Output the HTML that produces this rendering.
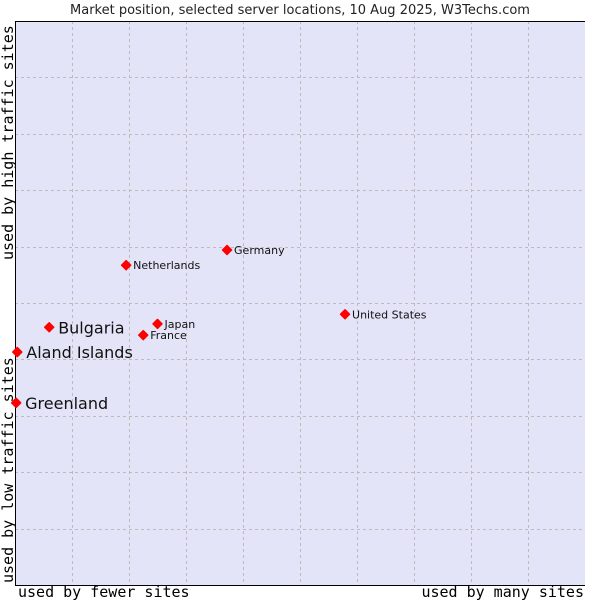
<!DOCTYPE html>
<html><head><meta charset="utf-8"><style>
body{margin:0;background:#fff;}
svg{display:block;font-family:"DejaVu Sans","Liberation Sans",sans-serif;}
</style></head><body>
<svg id="chart" width="600" height="600">
<text x="300" y="14" text-anchor="middle" font-size="13" fill="#222">Market position, selected server locations, 10 Aug 2025, W3Techs.com</text>
<rect x="15" y="21" width="570" height="564" fill="#e3e4f8"/>
<g id="grid"></g>
<line x1="15.5" y1="21" x2="15.5" y2="585" stroke="#000"/>
<line x1="15" y1="21.5" x2="585" y2="21.5" stroke="#000"/>
<line x1="15" y1="585.5" x2="585" y2="585.5" stroke="#000"/>
<g id="points"></g>
<text x="18" y="597" font-family="DejaVu Sans Mono,Liberation Mono,monospace" font-size="15">used by fewer sites</text>
<text x="584" y="597" text-anchor="end" font-family="DejaVu Sans Mono,Liberation Mono,monospace" font-size="15">used by many sites</text>
<text transform="translate(13,260) rotate(-90)" font-family="DejaVu Sans Mono,Liberation Mono,monospace" font-size="15">used by high traffic sites</text>
<text transform="translate(13,583) rotate(-90)" font-family="DejaVu Sans Mono,Liberation Mono,monospace" font-size="15">used by low traffic sites</text>
</svg>
<script>
const names=["Greenland","Aland Islands","Bulgaria","Netherlands","Japan","France","Germany","United States"];
const xs=[0.2,0.4,6.0,19.5,25.0,22.5,37.2,57.9];
const ys=[32.3,41.3,45.7,56.7,46.3,44.3,59.4,48.0];
const big=[true,true,true,false,false,false,false,false];
const X0=15,X1=585,Y0=585,Y1=21;
const sx=v=>X0+(X1-X0)*v/100, sy=v=>Y0-(Y0-Y1)*v/100;
const NS="http://www.w3.org/2000/svg";
const g=document.getElementById('grid');
for(let i=1;i<10;i++){
 const v=document.createElementNS(NS,'line');
 
 
 const x=Math.round(sx(i*10))+0.5;
 v.setAttribute('x1',x);v.setAttribute('x2',x);v.setAttribute('y1',Y1);v.setAttribute('y2',Y0);
 v.setAttribute('stroke','#bbbbbb');v.setAttribute('stroke-dasharray','3,3');g.appendChild(v);
 const h=document.createElementNS(NS,'line');
 
 
 const y=Math.round(sy(i*10))+0.5;
 h.setAttribute('x1',X0);h.setAttribute('x2',X1);h.setAttribute('y1',y);h.setAttribute('y2',y);
 h.setAttribute('stroke','#bbbbbb');h.setAttribute('stroke-dasharray','3,3');g.appendChild(h);
}
const p=document.getElementById('points');
names.forEach((n,i)=>{
 const x=sx(xs[i]),y=sy(ys[i]);
 const d=document.createElementNS(NS,'path');
 
 
 d.setAttribute('d',`M${x-4.5},${y} L${x},${y-4.5} L${x+4.5},${y} L${x},${y+4.5}Z`);
 d.setAttribute('fill','#f00');d.setAttribute('stroke','#f00');d.setAttribute('stroke-linejoin','round');d.setAttribute('stroke-width','1.5');
 p.appendChild(d);
 const t=document.createElementNS(NS,'text');
 
 
 t.setAttribute('x',x+(big[i]?9:7));t.setAttribute('y',y+(big[i]?6:4));
 t.setAttribute('font-size',big[i]?16:11);t.setAttribute('fill','#111');
 t.textContent=n;p.appendChild(t);
});
</script>
</body></html>
